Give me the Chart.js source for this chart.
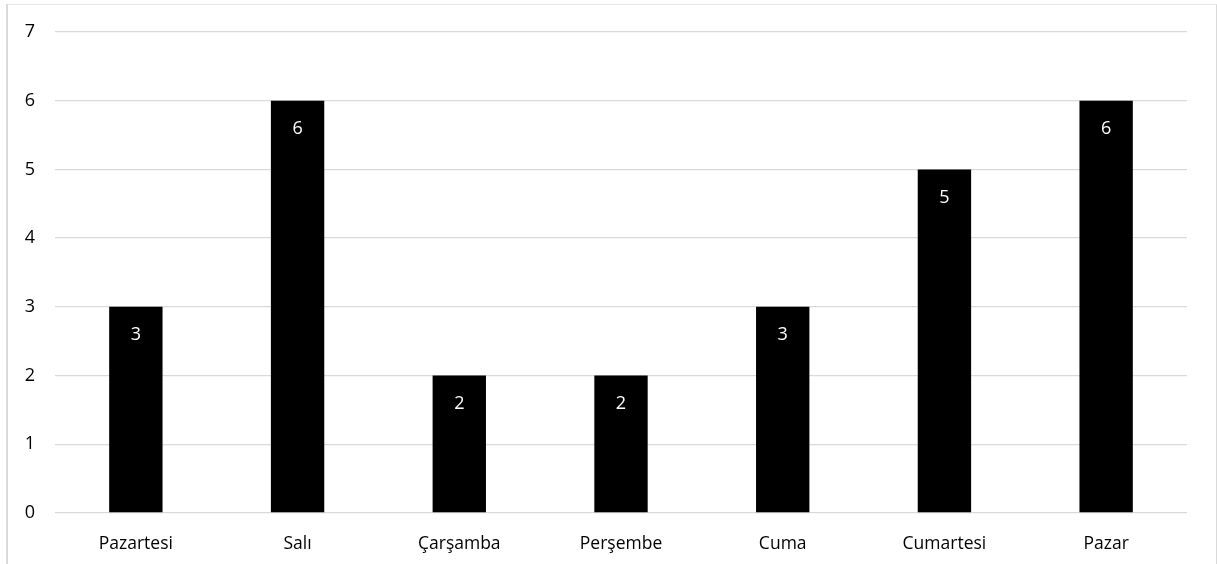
<!DOCTYPE html>
<html>
<head>
<meta charset="utf-8">
<script src="https://cdn.jsdelivr.net/npm/chart.js@4"></script>
<style>
  html, body { margin: 0; padding: 0; background: #fff; }
  #wrap { position: relative; width: 1217px; height: 564px; }
  #frame { position: absolute; left: 6px; top: 4px; width: 1208px; height: 570px;
           border-left: 2px solid #d9d9d9; border-top: 1px solid #e6e6e6; border-right: 2px solid #d9d9d9;
           pointer-events: none; }
  canvas { position: absolute; left: 0; top: 0; }
</style>
</head>
<body>
<div id="wrap">
  <canvas id="c" width="1217" height="564"></canvas>
  <div id="frame"></div>
</div>
<script>
const categories = ["Pazartesi", "Salı", "Çarşamba", "Perşembe", "Cuma", "Cumartesi", "Pazar"];
const values = [3, 6, 2, 2, 3, 5, 6];
const yTicks = [0, 1, 2, 3, 4, 5, 6, 7];

const FONT = "'Open Sans', 'Liberation Sans', sans-serif";

const labelPlugin = {
  id: 'barLabels',
  afterDatasetsDraw(chart) {
    const ctx = chart.ctx;
    const meta = chart.getDatasetMeta(0);
    ctx.save();
    ctx.fillStyle = '#ffffff';
    ctx.font = "18px " + FONT;
    ctx.textAlign = 'center';
    ctx.textBaseline = 'middle';
    meta.data.forEach((bar, i) => {
      ctx.fillText(String(values[i]), bar.x, bar.y + 28);
    });
    ctx.restore();
  }
};

new Chart(document.getElementById('c'), {
  type: 'bar',
  data: {
    labels: categories,
    datasets: [{
      data: values,
      backgroundColor: '#000000',
      borderWidth: 0,
      barPercentage: 0.33,
      categoryPercentage: 1.0
    }]
  },
  options: {
    responsive: false,
    animation: false,
    layout: { padding: { left: 0, right: 30, top: 32, bottom: 0 } },
    plugins: { legend: { display: false }, tooltip: { enabled: false } },
    scales: {
      x: {
        grid: { display: false, drawTicks: false },
        border: { display: false },
        ticks: { color: '#000', font: { family: FONT, size: 17.5 }, padding: 21, maxRotation: 0 },
        afterFit(s) { s.height = 51; }
      },
      y: {
        min: 0, max: 7,
        afterBuildTicks(s) { s.ticks = yTicks.map(v => ({ value: v })); },
        grid: { color: '#d9d9d9', lineWidth: 1.3, drawTicks: false },
        border: { display: false },
        ticks: { color: '#000', font: { family: FONT, size: 18 }, padding: 20 },
        afterFit(s) { s.width = 55; }
      }
    }
  },
  plugins: [labelPlugin]
});
</script>
</body>
</html>
